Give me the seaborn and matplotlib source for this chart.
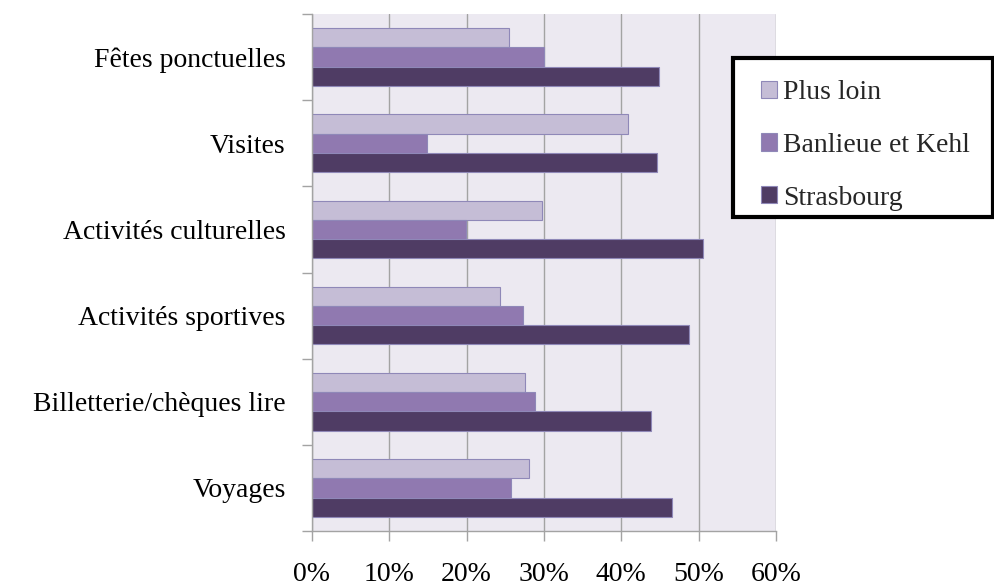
import numpy as np
import pandas as pd
import matplotlib
matplotlib.use("Agg")
import matplotlib.pyplot as plt
import seaborn as sns
from matplotlib.patches import Rectangle
from matplotlib.ticker import FuncFormatter, FixedLocator

# ─── Data ───────────────────────────────────────────────────────────────────
categories = [
    "Fêtes ponctuelles",
    "Visites",
    "Activités culturelles",
    "Activités sportives",
    "Billetterie/chèques lire",
    "Voyages",
]
series = ["Plus loin", "Banlieue et Kehl", "Strasbourg"]

plus_loin  = [25.5, 40.8, 29.8, 24.3, 27.6, 28.1]
banlieue   = [30.0, 14.9, 19.9, 27.3, 28.8, 25.7]
strasbourg = [44.9, 44.6, 50.6, 48.7, 43.9, 46.6]

x_ticks = [0, 10, 20, 30, 40, 50, 60]

colors = ["#c5bdd6", "#9079b0", "#4f3c64"]

# ─── Long table for seaborn ─────────────────────────────────────────────────
df = pd.DataFrame({
    "categorie": categories * 3,
    "serie": [series[0]] * 6 + [series[1]] * 6 + [series[2]] * 6,
    "valeur": plus_loin + banlieue + strasbourg,
})

sns.set_theme(style="white")
plt.rcParams["font.family"] = ["Liberation Serif", "DejaVu Serif"]

W, H = 994, 587
fig = plt.figure(figsize=(W / 100, H / 100), dpi=100)
ax = fig.add_axes([312 / W, 1 - 531 / H, (776 - 312) / W, (531 - 14) / H])

sns.barplot(
    data=df, y="categorie", x="valeur", hue="serie",
    order=categories, hue_order=series, palette=colors,
    orient="h", width=0.67, ax=ax, legend=True,
    edgecolor="#8f88b8", linewidth=0.8, saturation=1,
)

ax.set_facecolor("#ece9f1")
ax.set_xlim(0, 60)
ax.set_ylim(len(categories) - 0.5, -0.5)
ax.set_xlabel("")
ax.set_ylabel("")

# grid
ax.xaxis.set_major_locator(FixedLocator(x_ticks))
ax.xaxis.set_major_formatter(FuncFormatter(lambda v, p: f"{int(v)}%"))
ax.grid(axis="x", color="#a3a3a3", linewidth=1.0)
ax.set_axisbelow(True)

# spines
for side in ["top", "right"]:
    ax.spines[side].set_visible(False)
for side in ["left", "bottom"]:
    ax.spines[side].set_color("#a3a3a3")
    ax.spines[side].set_linewidth(1.0)

# ticks: labels at centers, marks at category boundaries
ax.set_yticks(range(len(categories)))
ax.set_yticklabels(categories)
ax.set_yticks(np.arange(-0.5, len(categories), 1.0), minor=True)
ax.tick_params(axis="y", which="major", length=0, pad=19, labelsize=20, colors="black")
ax.tick_params(axis="y", which="minor", length=7, width=1.0, color="#a3a3a3", left=True)
ax.tick_params(axis="x", which="major", length=7, width=1.0, color="#a3a3a3",
               bottom=True, pad=15, labelsize=20, labelcolor="black")

# legend: box drawn separately so its size matches the reference
ax.get_legend().remove()
box = Rectangle((733 / W, 1 - 217 / H), (993 - 733) / W, (217 - 58) / H,
                transform=fig.transFigure, facecolor="white",
                edgecolor="black", linewidth=3, zorder=5)
fig.patches.append(box)

handles, labels = ax.get_legend_handles_labels()
leg = fig.legend(
    handles, labels, loc="upper left",
    bbox_to_anchor=(761 / W, 1 - 80 / H),
    frameon=False, fontsize=20,
    handlelength=0.58, handleheight=0.58, handletextpad=0.2,
    labelspacing=1.0, borderpad=0, borderaxespad=0,
)
leg.set_zorder(6)

fig.savefig("out.png", dpi=100)
